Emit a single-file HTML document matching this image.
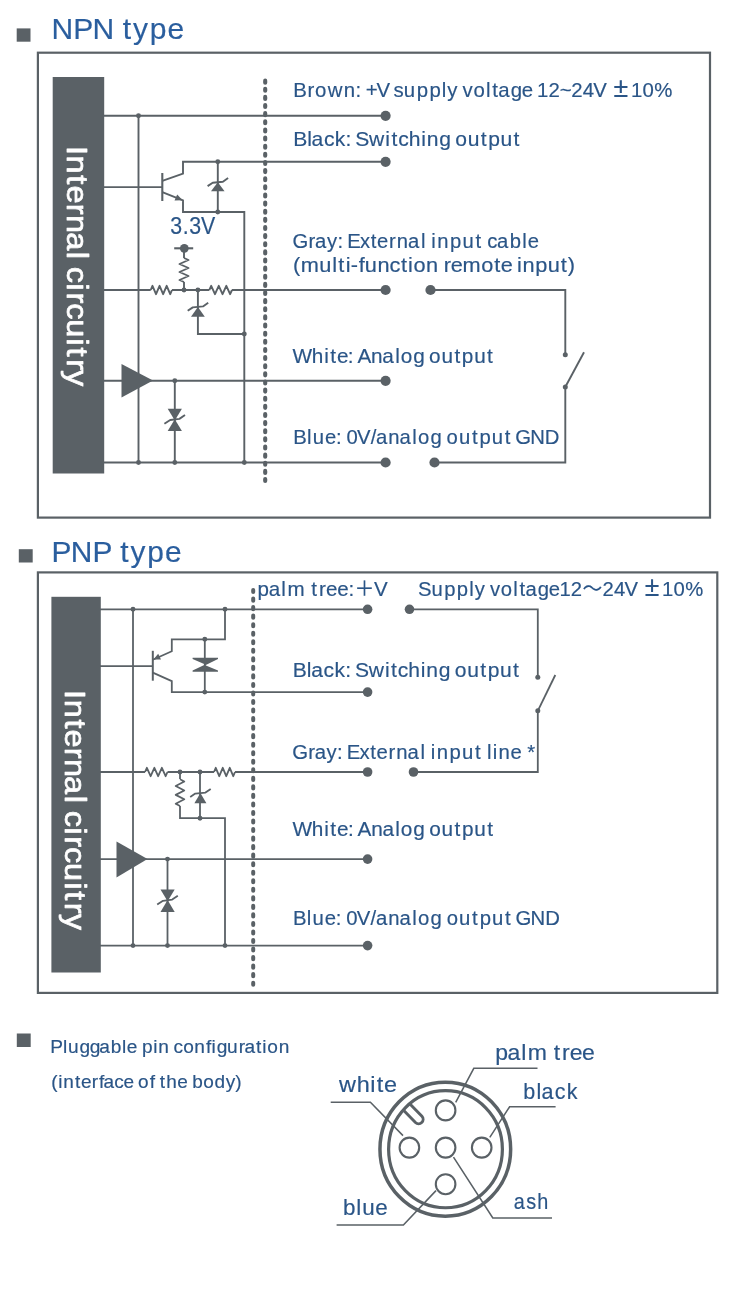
<!DOCTYPE html>
<html lang="en">
<head>
<meta charset="utf-8">
<title>NPN / PNP wiring diagram</title>
<style>
html,body{margin:0;padding:0;background:#fff;}
body{width:750px;height:1303px;overflow:hidden;font-family:"Liberation Sans", "Noto Sans CJK SC", sans-serif;}
svg{display:block;will-change:transform;}
svg text{font-family:"Liberation Sans", "Noto Sans CJK SC", sans-serif;font-kerning:none;font-variant-ligatures:none;white-space:pre;}
</style>
</head>
<body>
<svg width="750" height="1303" viewBox="0 0 750 1303">
<rect x="16.7" y="28.4" width="13.8" height="13.3" fill="#5a6166"/>
<text transform="scale(0.9948 1)" y="39.1" font-size="30.2" fill="#2a5e9e" stroke="#2a5e9e" stroke-width="0.18" stroke-linejoin="round"><tspan x="51.70 73.61 93.08 114.89 123.44 133.76 150.66 168.44">NPN type</tspan></text>
<rect x="37.9" y="52.7" width="672.1" height="464.9" fill="none" stroke="#5a6166" stroke-width="2.2"/>
<rect x="52.7" y="77" width="51.5" height="396.5" fill="#5a6166"/>
<text transform="translate(66.9 0) rotate(90) scale(1.0692 1)" y="0" font-size="30.4" fill="#fff" stroke="#fff" stroke-width="0.7" stroke-linejoin="round"><tspan x="136.53 145.51 164.01 173.49 190.51 201.16 217.13 235.55 242.30 249.49 265.02 273.49 283.59 298.52 316.46 325.06 335.89 346.00">Internal circuitry</tspan></text>
<line x1="265.2" y1="80.65" x2="265.2" y2="481.4" stroke="#5a6166" stroke-width="4.1" stroke-linecap="round" stroke-dasharray="2 6.13"/>
<path d="M104 115.8 L385.6 115.8" fill="none" stroke="#5a6166" stroke-width="1.9" stroke-linejoin="miter"/>
<path d="M138.5 115.8 L138.5 462.5" fill="none" stroke="#5a6166" stroke-width="1.9" stroke-linejoin="miter"/>
<circle cx="138.5" cy="115.8" r="2.45" fill="#5a6166"/>
<circle cx="138.5" cy="462.5" r="2.45" fill="#5a6166"/>
<path d="M104 187.1 L162.3 187.1" fill="none" stroke="#5a6166" stroke-width="1.9" stroke-linejoin="miter"/>
<path d="M162.3 173 L162.3 201" fill="none" stroke="#5a6166" stroke-width="2.1" stroke-linejoin="miter"/>
<path d="M162.3 180.8 L183 173.6 L183 161.8 L385.6 161.8" fill="none" stroke="#5a6166" stroke-width="1.9" stroke-linejoin="miter"/>
<path d="M162.3 192.1 L183 200.4 L183 212 L244.3 212 L244.3 462.5" fill="none" stroke="#5a6166" stroke-width="1.9" stroke-linejoin="miter"/>
<path d="M182.6 200.3 L174.5 200.6 L177.2 194.4 Z" fill="#5a6166"/>
<path d="M217.8 161.8 L217.8 212" fill="none" stroke="#5a6166" stroke-width="1.9" stroke-linejoin="miter"/>
<circle cx="217.8" cy="161.8" r="2.45" fill="#5a6166"/>
<circle cx="217.8" cy="212" r="2.45" fill="#5a6166"/>
<path d="M211 191.3 L224.6 191.3 L217.8 182.2 Z" fill="#5a6166"/>
<path d="M207.6 186.1 L212.7 182.7 L222.9 181.7 L228.1 178" fill="none" stroke="#5a6166" stroke-width="1.9" stroke-linejoin="round"/>
<text transform="scale(0.9285 1)" y="233.6" font-size="23" fill="#2a5587" stroke="#2a5587" stroke-width="0.18" stroke-linejoin="round"><tspan x="183.29 196.93 203.71 216.60">3.3V</tspan></text>
<circle cx="184.3" cy="248.3" r="4.4" fill="#5a6166"/>
<path d="M174.2 248.3 L193.2 248.3" fill="none" stroke="#5a6166" stroke-width="2.1" stroke-linejoin="miter"/>
<path d="M184 248.3 L184 258" fill="none" stroke="#5a6166" stroke-width="1.9" stroke-linejoin="miter"/>
<path d="M184 258 L188.5 260 L179.5 264 L188.5 268 L179.5 272 L188.5 276 L179.5 280 L184 282" fill="none" stroke="#5a6166" stroke-width="1.9" stroke-linejoin="round"/>
<path d="M184 282 L184 290" fill="none" stroke="#5a6166" stroke-width="1.9" stroke-linejoin="miter"/>
<path d="M104 290 L150.7 290" fill="none" stroke="#5a6166" stroke-width="1.9" stroke-linejoin="miter"/>
<path d="M150.7 290 L152.475 285.8 L156.025 294.2 L159.575 285.8 L163.125 294.2 L166.675 285.8 L170.225 294.2 L172 290" fill="none" stroke="#5a6166" stroke-width="1.9" stroke-linejoin="round"/>
<path d="M172 290 L209.3 290" fill="none" stroke="#5a6166" stroke-width="1.9" stroke-linejoin="miter"/>
<path d="M209.3 290 L211.192 285.8 L214.975 294.2 L218.758 285.8 L222.542 294.2 L226.325 285.8 L230.108 294.2 L232 290" fill="none" stroke="#5a6166" stroke-width="1.9" stroke-linejoin="round"/>
<path d="M232 290 L385.6 290" fill="none" stroke="#5a6166" stroke-width="1.9" stroke-linejoin="miter"/>
<circle cx="184" cy="290" r="2.45" fill="#5a6166"/>
<circle cx="197.9" cy="290" r="2.45" fill="#5a6166"/>
<path d="M197.9 290 L197.9 334 L244.3 334" fill="none" stroke="#5a6166" stroke-width="1.9" stroke-linejoin="miter"/>
<circle cx="244.3" cy="334" r="2.45" fill="#5a6166"/>
<path d="M191 316.7 L204.8 316.7 L197.9 306.9 Z" fill="#5a6166"/>
<path d="M187.7 310.8 L192.8 307.4 L203 306.4 L208.2 302.7" fill="none" stroke="#5a6166" stroke-width="1.9" stroke-linejoin="round"/>
<path d="M104 380.8 L385.6 380.8" fill="none" stroke="#5a6166" stroke-width="1.9" stroke-linejoin="miter"/>
<path d="M121.5 364 L153 380.5 L121.5 397.5 Z" fill="#5a6166"/>
<circle cx="174.8" cy="380.8" r="2.45" fill="#5a6166"/>
<path d="M174.8 380.8 L174.8 462.5" fill="none" stroke="#5a6166" stroke-width="1.9" stroke-linejoin="miter"/>
<path d="M167.7 408.7 L181.9 408.7 L174.8 420.45 Z" fill="#5a6166"/>
<path d="M167.7 431 L181.9 431 L174.8 419.25 Z" fill="#5a6166"/>
<path d="M164.4 423.75 L170.2 420.05 L179.4 418.85 L185 415.05" fill="none" stroke="#5a6166" stroke-width="1.9" stroke-linejoin="round"/>
<path d="M104 462.5 L385.6 462.5" fill="none" stroke="#5a6166" stroke-width="1.9" stroke-linejoin="miter"/>
<circle cx="174.8" cy="462.5" r="2.45" fill="#5a6166"/>
<circle cx="244.3" cy="462.5" r="2.45" fill="#5a6166"/>
<circle cx="385.6" cy="115.8" r="5.1" fill="#5a6166"/>
<circle cx="385.6" cy="161.8" r="5.1" fill="#5a6166"/>
<circle cx="385.6" cy="290" r="5.1" fill="#5a6166"/>
<circle cx="385.6" cy="380.8" r="5.1" fill="#5a6166"/>
<circle cx="385.6" cy="462.5" r="5.1" fill="#5a6166"/>
<circle cx="430.5" cy="290" r="5.1" fill="#5a6166"/>
<circle cx="434.5" cy="462.5" r="5.1" fill="#5a6166"/>
<path d="M430.5 290 L565.3 290 L565.3 354.8" fill="none" stroke="#5a6166" stroke-width="1.9" stroke-linejoin="miter"/>
<path d="M584 352.3 L565.3 387" fill="none" stroke="#5a6166" stroke-width="1.9" stroke-linejoin="miter"/>
<path d="M565.3 387 L565.3 462.5 L434.5 462.5" fill="none" stroke="#5a6166" stroke-width="1.9" stroke-linejoin="miter"/>
<circle cx="565.3" cy="354.8" r="2.5" fill="#5a6166"/>
<circle cx="565.3" cy="387" r="2.5" fill="#5a6166"/>
<text transform="scale(0.9811 1)" y="97.3" font-size="20.8" fill="#2a5587" stroke="#2a5587" stroke-width="0.18" stroke-linejoin="round"><tspan x="298.99 313.49 321.14 333.96 350.38 362.44 368.22 372.74 383.67 397.54 401.05 411.62 424.68 437.65 450.37 455.86 466.26 471.44 482.65 495.37 501.69 507.91 520.49 531.71 543.28 547.45 558.95 570.51 582.16 593.87 604.65 618.52">Brown: +V supply voltage 12~24V </tspan><tspan x="625.27" font-size="27.25">±</tspan><tspan x="643.10 654.80 666.74">10%</tspan></text>
<text transform="scale(1.0147 1)" y="145.6" font-size="20.8" fill="#2a5587" stroke="#2a5587" stroke-width="0.18" stroke-linejoin="round"><tspan x="288.93 302.81 307.12 319.31 330.03 340.54 346.32 350.16 363.73 379.75 385.73 392.45 402.82 415.11 420.60 432.95 444.52 448.68 460.90 473.72 481.08 493.24 506.06">Black: Switching output</tspan></text>
<text transform="scale(0.9740 1)" y="248.1" font-size="20.8" fill="#2a5587" stroke="#2a5587" stroke-width="0.18" stroke-linejoin="round"><tspan x="300.39 316.85 323.49 335.70 346.45 352.23 356.51 369.66 380.58 387.12 399.43 407.33 419.02 432.19 436.81 442.89 448.86 462.08 474.87 488.23 494.01 500.19 510.19 523.44 536.25 541.79">Gray: External input cable</tspan></text>
<text transform="scale(1.0462 1)" y="272.2" font-size="20.8" fill="#2a5587" stroke="#2a5587" stroke-width="0.18" stroke-linejoin="round"><tspan x="279.97 287.38 305.24 317.55 323.38 330.39 335.38 343.00 348.74 360.76 372.37 383.30 390.09 395.25 407.25 418.81 424.07 430.76 442.14 460.00 472.55 478.54 490.11 494.16 499.41 511.63 523.48 536.04 542.57">(multi-function remote input)</tspan></text>
<text transform="scale(0.9981 1)" y="363" font-size="20.8" fill="#2a5587" stroke="#2a5587" stroke-width="0.18" stroke-linejoin="round"><tspan x="293.16 312.44 324.85 330.91 337.64 348.54 354.32 358.11 371.82 383.04 395.90 401.47 414.00 425.57 429.93 442.31 455.26 462.75 475.06 488.02">White: Analog output</tspan></text>
<text transform="scale(0.9753 1)" y="444.2" font-size="20.8" fill="#2a5587" stroke="#2a5587" stroke-width="0.18" stroke-linejoin="round"><tspan x="300.69 314.91 320.78 333.12 344.58 350.36 355.21 365.95 380.10 385.49 398.02 409.59 422.68 428.55 441.44 453.01 457.85 470.59 483.85 491.65 504.31 517.57 523.35 528.31 543.69 558.63">Blue: 0V/analog output GND</tspan></text>
<rect x="18.8" y="549.2" width="13.9" height="13.3" fill="#5a6166"/>
<text transform="scale(0.9903 1)" y="561.6" font-size="30.2" fill="#2a5e9e" stroke="#2a5e9e" stroke-width="0.18" stroke-linejoin="round"><tspan x="52.01 71.55 93.53 113.67 121.36 131.72 148.68 166.51">PNP type</tspan></text>
<rect x="37.9" y="572.4" width="679.4" height="420.5" fill="none" stroke="#5a6166" stroke-width="2.2"/>
<rect x="51.4" y="596.8" width="49.4" height="375.7" fill="#5a6166"/>
<text transform="translate(64.9 0) rotate(90) scale(1.0674 1)" y="0" font-size="30.4" fill="#fff" stroke="#fff" stroke-width="0.7" stroke-linejoin="round"><tspan x="646.50 655.49 673.98 683.46 700.48 711.14 727.10 745.52 752.28 759.46 774.99 783.46 793.57 808.49 826.43 835.03 845.86 855.97">Internal circuitry</tspan></text>
<line x1="253.2" y1="590" x2="253.2" y2="984.9" stroke="#5a6166" stroke-width="4" stroke-linecap="round" stroke-dasharray="2.1 6.436"/>
<path d="M100 609.3 L367.6 609.3" fill="none" stroke="#5a6166" stroke-width="1.8" stroke-linejoin="miter"/>
<path d="M133 609.3 L133 945.6" fill="none" stroke="#5a6166" stroke-width="1.8" stroke-linejoin="miter"/>
<circle cx="133" cy="609.3" r="2.45" fill="#5a6166"/>
<circle cx="133" cy="945.6" r="2.45" fill="#5a6166"/>
<path d="M225 609.3 L225 639.3 L171.8 639.3 L171.8 651.2 L152.8 659.8" fill="none" stroke="#5a6166" stroke-width="1.8" stroke-linejoin="miter"/>
<circle cx="225" cy="609.3" r="2.45" fill="#5a6166"/>
<circle cx="204.8" cy="639.3" r="2.45" fill="#5a6166"/>
<circle cx="204.8" cy="692.1" r="2.45" fill="#5a6166"/>
<path d="M100 666.1 L152.8 666.1" fill="none" stroke="#5a6166" stroke-width="1.8" stroke-linejoin="miter"/>
<path d="M152.8 650.8 L152.8 680.7" fill="none" stroke="#5a6166" stroke-width="2" stroke-linejoin="miter"/>
<path d="M152.8 672.6 L171.8 681.2 L171.8 692.1 L367.6 692.1" fill="none" stroke="#5a6166" stroke-width="1.8" stroke-linejoin="miter"/>
<path d="M153.4 659.5 L161.0 659.6 L158.2 653.7 Z" fill="#5a6166"/>
<path d="M204.8 639.3 L204.8 692.1" fill="none" stroke="#5a6166" stroke-width="1.8" stroke-linejoin="miter"/>
<path d="M192.6 657.8 L218 657.8 L218 659 L205.3 665.2 L218 670.6 L218 671.8 L192.6 671.8 L192.6 670.6 L205.3 664.5 L192.6 659 Z" fill="#5a6166"/>
<path d="M100 772 L145 772" fill="none" stroke="#5a6166" stroke-width="1.8" stroke-linejoin="miter"/>
<path d="M145 772 L146.875 767.8 L150.625 776.2 L154.375 767.8 L158.125 776.2 L161.875 767.8 L165.625 776.2 L167.5 772" fill="none" stroke="#5a6166" stroke-width="1.8" stroke-linejoin="round"/>
<path d="M167.5 772 L214 772" fill="none" stroke="#5a6166" stroke-width="1.8" stroke-linejoin="miter"/>
<path d="M214 772 L215.75 767.8 L219.25 776.2 L222.75 767.8 L226.25 776.2 L229.75 767.8 L233.25 776.2 L235 772" fill="none" stroke="#5a6166" stroke-width="1.8" stroke-linejoin="round"/>
<path d="M235 772 L367.6 772" fill="none" stroke="#5a6166" stroke-width="1.8" stroke-linejoin="miter"/>
<circle cx="180" cy="772" r="2.45" fill="#5a6166"/>
<circle cx="200" cy="772" r="2.45" fill="#5a6166"/>
<path d="M180 772 L180 779" fill="none" stroke="#5a6166" stroke-width="1.8" stroke-linejoin="miter"/>
<path d="M180 779.3 L184.3 781.525 L175.7 785.975 L184.3 790.425 L175.7 794.875 L184.3 799.325 L175.7 803.775 L180 806" fill="none" stroke="#5a6166" stroke-width="1.8" stroke-linejoin="round"/>
<path d="M180 806 L180 818.2 L225 818.2 L225 945.6" fill="none" stroke="#5a6166" stroke-width="1.8" stroke-linejoin="miter"/>
<path d="M200 772 L200 818.2" fill="none" stroke="#5a6166" stroke-width="1.8" stroke-linejoin="miter"/>
<circle cx="200" cy="818.2" r="2.45" fill="#5a6166"/>
<path d="M194.4 803.3 L206.4 803.3 L200.4 793.1 Z" fill="#5a6166"/>
<path d="M190.2 797 L195.3 793.6 L205.5 792.6 L210.7 788.9" fill="none" stroke="#5a6166" stroke-width="1.8" stroke-linejoin="round"/>
<path d="M100 859.1 L367.6 859.1" fill="none" stroke="#5a6166" stroke-width="1.8" stroke-linejoin="miter"/>
<path d="M116.5 841.5 L147.5 859 L116.5 877.5 Z" fill="#5a6166"/>
<circle cx="167.5" cy="859.1" r="2.45" fill="#5a6166"/>
<path d="M167.5 859.1 L167.5 945.6" fill="none" stroke="#5a6166" stroke-width="1.8" stroke-linejoin="miter"/>
<path d="M160.5 889.4 L174.7 889.4 L167.6 901.2 Z" fill="#5a6166"/>
<path d="M160.5 912.1 L174.7 912.1 L167.6 900 Z" fill="#5a6166"/>
<path d="M157.2 904.5 L163 900.8 L172.2 899.6 L177.8 895.8" fill="none" stroke="#5a6166" stroke-width="1.8" stroke-linejoin="round"/>
<path d="M100 945.6 L367.6 945.6" fill="none" stroke="#5a6166" stroke-width="1.8" stroke-linejoin="miter"/>
<circle cx="167.5" cy="945.6" r="2.45" fill="#5a6166"/>
<circle cx="225" cy="945.6" r="2.45" fill="#5a6166"/>
<circle cx="367.6" cy="609.3" r="4.8" fill="#5a6166"/>
<circle cx="367.6" cy="692.1" r="4.8" fill="#5a6166"/>
<circle cx="367.6" cy="772" r="4.8" fill="#5a6166"/>
<circle cx="367.6" cy="859.1" r="4.8" fill="#5a6166"/>
<circle cx="367.6" cy="945.6" r="4.8" fill="#5a6166"/>
<circle cx="409.5" cy="609.3" r="4.8" fill="#5a6166"/>
<circle cx="413.5" cy="772" r="4.8" fill="#5a6166"/>
<path d="M409.5 609.3 L537.8 609.3 L537.8 677.2" fill="none" stroke="#5a6166" stroke-width="1.8" stroke-linejoin="miter"/>
<path d="M555.3 675 L537.8 710.8" fill="none" stroke="#5a6166" stroke-width="1.8" stroke-linejoin="miter"/>
<path d="M537.8 710.8 L537.8 772 L413.5 772" fill="none" stroke="#5a6166" stroke-width="1.8" stroke-linejoin="miter"/>
<circle cx="537.8" cy="677.2" r="2.5" fill="#5a6166"/>
<circle cx="537.8" cy="710.8" r="2.5" fill="#5a6166"/>
<text transform="scale(0.9907 1)" y="596.3" font-size="20.8" fill="#2a5587" stroke="#2a5587" stroke-width="0.18" stroke-linejoin="round"><tspan x="259.88 271.27 283.94 290.22 307.54 314.14 321.93 329.11 340.41 351.78">palm tree:</tspan><tspan x="357.92" font-size="20.18">＋</tspan><tspan x="377.47">V</tspan></text>
<text transform="scale(0.9743 1)" y="596.4" font-size="20.8" fill="#2a5587" stroke="#2a5587" stroke-width="0.18" stroke-linejoin="round"><tspan x="429.08 442.82 455.92 468.92 481.67 487.19 497.59 502.81 514.05 526.79 533.13 539.38 551.99 563.24 574.34 585.87">Supply voltage12</tspan><tspan x="597.98" font-size="20.34">～</tspan><tspan x="618.47 630.21 641.02 654.89">24V </tspan><tspan x="661.70" font-size="27.25">±</tspan><tspan x="679.57 691.31 703.29">10%</tspan></text>
<text transform="scale(1.0143 1)" y="677" font-size="20.8" fill="#2a5587" stroke="#2a5587" stroke-width="0.18" stroke-linejoin="round"><tspan x="288.66 302.54 306.86 319.04 329.76 340.28 346.05 349.90 363.46 379.49 385.46 392.18 402.55 414.85 420.33 432.69 444.26 448.42 460.64 473.46 480.82 492.97 505.80">Black: Switching output</tspan></text>
<text transform="scale(0.9786 1)" y="759.2" font-size="20.8" fill="#2a5587" stroke="#2a5587" stroke-width="0.18" stroke-linejoin="round"><tspan x="298.64 315.02 321.60 333.74 344.44 350.22 354.41 367.49 378.36 384.83 397.08 404.92 416.53 429.66 434.28 440.29 446.19 459.33 472.04 485.34 491.11 497.62 503.52 509.43 521.77 533.34 538.85">Gray: External input line *</tspan></text>
<text transform="scale(0.9991 1)" y="836.3" font-size="20.8" fill="#2a5587" stroke="#2a5587" stroke-width="0.18" stroke-linejoin="round"><tspan x="292.87 312.15 324.55 330.62 337.34 348.25 354.03 357.81 371.52 382.75 395.61 401.17 413.71 425.27 429.64 442.01 454.97 462.46 474.77 487.72">White: Analog output</tspan></text>
<text transform="scale(0.9779 1)" y="925.2" font-size="20.8" fill="#2a5587" stroke="#2a5587" stroke-width="0.18" stroke-linejoin="round"><tspan x="299.58 313.80 319.67 332.01 343.47 349.25 354.10 364.84 378.99 384.38 396.91 408.48 421.57 427.44 440.33 451.90 456.74 469.48 482.74 490.54 503.20 516.46 522.24 527.20 542.58 557.52">Blue: 0V/analog output GND</tspan></text>
<rect x="16.8" y="1033.5" width="13.9" height="13.5" fill="#5a6166"/>
<text transform="scale(1.0058 1)" y="1052.7" font-size="19" fill="#2a5587" stroke="#2a5587" stroke-width="0.18" stroke-linejoin="round"><tspan x="50.03 62.58 67.57 78.94 89.36 98.62 110.04 121.40 126.03 136.59 141.10 152.37 157.41 167.98 172.47 182.17 193.02 204.74 210.35 215.44 225.73 237.41 243.09 254.56 260.85 265.80 277.10">Pluggable pin configuration</tspan></text>
<text transform="scale(1.0009 1)" y="1088.4" font-size="19" fill="#2a5587" stroke="#2a5587" stroke-width="0.18" stroke-linejoin="round"><tspan x="51.29 58.13 63.17 74.89 80.95 91.74 98.98 103.43 114.19 123.51 134.08 137.81 149.54 154.82 159.69 166.21 176.97 187.54 192.04 203.14 214.30 225.53 235.12">(interface of the body)</tspan></text>
<ellipse cx="445.3" cy="1149.2" rx="65.35" ry="67" fill="#fff" stroke="#5a6166" stroke-width="3.5"/>
<path d="M403.27 1109.93 L415.47 1122.53 A4.5 4.5 0 0 0 421.93 1116.27 L409.73 1103.67" fill="#fff" stroke="#5a6166" stroke-width="2.9"/>
<ellipse cx="445.5" cy="1149.2" rx="56.9" ry="58.55" fill="none" stroke="#5a6166" stroke-width="3.2"/>
<ellipse cx="445.6" cy="1147.6" rx="9.8" ry="10" fill="#fff" stroke="#5a6166" stroke-width="2.1"/>
<ellipse cx="445.6" cy="1110.4" rx="9.8" ry="10" fill="#fff" stroke="#5a6166" stroke-width="2.1"/>
<ellipse cx="409.4" cy="1147.6" rx="9.8" ry="10" fill="#fff" stroke="#5a6166" stroke-width="2.1"/>
<ellipse cx="481.7" cy="1147.6" rx="9.8" ry="10" fill="#fff" stroke="#5a6166" stroke-width="2.1"/>
<ellipse cx="445.6" cy="1184.2" rx="9.8" ry="10" fill="#fff" stroke="#5a6166" stroke-width="2.1"/>
<path d="M537.5 1068.3 L473.8 1068.3 L455.7 1102.3" fill="none" stroke="#5a6166" stroke-width="1.55" stroke-linejoin="miter"/>
<path d="M330.7 1102.2 L370.4 1102.2 L403 1135.6" fill="none" stroke="#5a6166" stroke-width="1.55" stroke-linejoin="miter"/>
<path d="M555.6 1106.8 L509.6 1106.8 L489.8 1137.3" fill="none" stroke="#5a6166" stroke-width="1.55" stroke-linejoin="miter"/>
<path d="M336.6 1225 L403.4 1225 L436 1190.6" fill="none" stroke="#5a6166" stroke-width="1.55" stroke-linejoin="miter"/>
<path d="M552 1218 L492.8 1218 L453.5 1157.2" fill="none" stroke="#5a6166" stroke-width="1.55" stroke-linejoin="miter"/>
<text transform="scale(1.0819 1)" y="1060.3" font-size="21.3" fill="#2a5587" stroke="#2a5587" stroke-width="0.18" stroke-linejoin="round"><tspan x="457.70 469.03 481.77 487.82 505.56 511.80 519.52 526.63 537.87">palm tree</tspan></text>
<text transform="scale(1.1013 1)" y="1092.5" font-size="21.3" fill="#2a5587" stroke="#2a5587" stroke-width="0.18" stroke-linejoin="round"><tspan x="307.81 323.83 336.22 342.19 348.74">white</tspan></text>
<text transform="scale(1.0113 1)" y="1098.9" font-size="21.3" fill="#2a5587" stroke="#2a5587" stroke-width="0.18" stroke-linejoin="round"><tspan x="517.30 530.47 535.47 548.65 560.32">black</tspan></text>
<text transform="scale(1.0531 1)" y="1215.5" font-size="21.3" fill="#2a5587" stroke="#2a5587" stroke-width="0.18" stroke-linejoin="round"><tspan x="325.59 338.37 344.09 356.37">blue</tspan></text>
<text transform="scale(0.9322 1)" y="1209.5" font-size="21.3" fill="#2a5587" stroke="#2a5587" stroke-width="0.18" stroke-linejoin="round"><tspan x="551.11 564.49 576.41">ash</tspan></text>
</svg>
</body>
</html>
